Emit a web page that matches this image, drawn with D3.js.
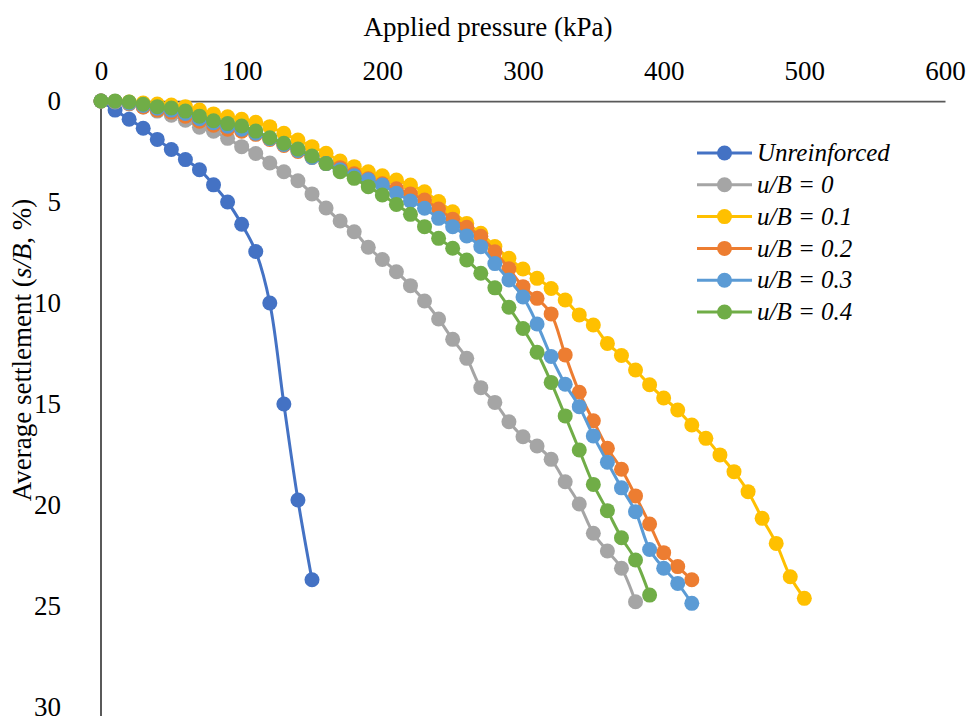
<!DOCTYPE html>
<html>
<head>
<meta charset="utf-8">
<script src="https://cdn.jsdelivr.net/npm/d3@7/dist/d3.min.js"></script>
<style>
  body { margin: 0; background: #fff; }
  text { font-family: "Liberation Serif", "Times New Roman", serif; fill: #000; }
</style>
</head>
<body>
<script>

// applied pressure steps (kPa), each series uses the first n of them
const pressureSteps = [0, 10, 20, 30, 40, 50, 60, 70, 80, 90,
  100, 110, 120, 130, 140, 150, 160, 170, 180, 190,
  200, 210, 220, 230, 240, 250, 260, 270, 280, 290,
  300, 310, 320, 330, 340, 350, 360, 370, 380, 390,
  400, 410, 420, 430, 440, 450, 460, 470, 480, 490, 500];

// average settlement s/B (%) per series
const unreinforced = [0, 0.45, 0.9, 1.35, 1.9, 2.4, 2.9, 3.4, 4.15, 5.0,
  6.1, 7.45, 10.0, 15.0, 19.75, 23.7];
const ub0 = [0, 0.05, 0.15, 0.3, 0.5, 0.7, 0.95, 1.3, 1.5, 1.85,
  2.26, 2.6, 3.07, 3.5, 3.95, 4.6, 5.3, 5.94, 6.47, 7.24,
  7.85, 8.45, 9.14, 9.9, 10.79, 11.8, 12.74, 14.19, 14.92, 15.88,
  16.62, 17.08, 17.74, 18.85, 19.95, 21.4, 22.28, 23.13, 24.79];
const ub01 = [0, 0.02, 0.05, 0.1, 0.15, 0.2, 0.28, 0.45, 0.64, 0.78,
  0.9, 1.05, 1.27, 1.6, 1.93, 2.26, 2.59, 2.97, 3.25, 3.5,
  3.7, 3.91, 4.16, 4.49, 4.98, 5.48, 6.06, 6.55, 7.2, 7.79,
  8.32, 8.78, 9.28, 9.85, 10.59, 11.09, 12.0, 12.6, 13.32, 14.05,
  14.7, 15.3, 16.04, 16.7, 17.52, 18.35, 19.34, 20.66, 21.9, 23.55, 24.62];
const ub02 = [0, 0.02, 0.12, 0.3, 0.45, 0.55, 0.75, 1.0, 1.2, 1.4,
  1.5, 1.65, 1.9, 2.2, 2.5, 2.8, 3.1, 3.3, 3.6, 3.85,
  4.1, 4.35, 4.6, 4.9, 5.35, 5.85, 6.25, 6.7, 7.46, 8.3,
  9.19, 9.77, 10.54, 12.57, 14.42, 15.83, 17.19, 18.23, 19.55, 20.94,
  22.36, 23.05, 23.7];
const ub03 = [0, 0.02, 0.1, 0.22, 0.36, 0.45, 0.62, 0.88, 1.08, 1.25,
  1.4, 1.6, 1.86, 2.15, 2.45, 2.8, 3.1, 3.4, 3.7, 3.9,
  4.16, 4.57, 4.95, 5.31, 5.81, 6.22, 6.68, 7.21, 8.05, 8.86,
  9.7, 11.04, 12.65, 14.02, 15.13, 16.58, 17.88, 19.15, 20.33, 22.2,
  23.13, 23.88, 24.87];
const ub04 = [0, 0, 0.05, 0.16, 0.28, 0.35, 0.5, 0.75, 0.98, 1.12,
  1.24, 1.49, 1.82, 2.09, 2.38, 2.72, 3.09, 3.5, 3.83, 4.24,
  4.65, 5.12, 5.61, 6.22, 6.8, 7.29, 7.87, 8.53, 9.25, 10.21,
  11.26, 12.44, 13.93, 15.59, 17.28, 18.98, 20.28, 21.62, 22.72, 24.46];

const seriesNames = ["Unreinforced", "u/B = 0", "u/B = 0.1", "u/B = 0.2", "u/B = 0.3", "u/B = 0.4"];
const seriesValues = [unreinforced, ub0, ub01, ub02, ub03, ub04];
const seriesColors = ["#4472C4", "#A5A5A5", "#FFC000", "#ED7D31", "#5B9BD5", "#70AD47"];

const xTicks = [0, 100, 200, 300, 400, 500, 600];
const yTicks = [0, 5, 10, 15, 20, 25, 30];

const width = 966;
const height = 716;
const margin = {top: 101, right: 21, bottom: 9, left: 101};

const svg = d3.select("body").append("svg")
    .attr("width", width)
    .attr("height", height);

// scales, settlement grows downward
const xScale = d3.scaleLinear()
    .domain([0, 600])
    .range([margin.left, width - margin.right]);
const yScale = d3.scaleLinear()
    .domain([0, 30])
    .range([margin.top, 707]);

// x axis on top
const xAxis = svg.append("g")
    .attr("transform", "translate(0," + margin.top + ")")
    .call(d3.axisTop(xScale).tickValues(xTicks).tickSize(0).tickPadding(21));
xAxis.select(".domain").attr("stroke", "#595959").attr("stroke-width", 1.75);
xAxis.selectAll("text").style("font-size", "27px");

// y axis on the left
const yAxis = svg.append("g")
    .attr("transform", "translate(" + margin.left + ",0)")
    .call(d3.axisLeft(yScale).tickValues(yTicks).tickSize(0).tickPadding(40));
yAxis.select(".domain").remove();
yAxis.selectAll("text").style("font-size", "27px");
yAxis.append("line")
    .attr("x1", 0).attr("x2", 0)
    .attr("y1", margin.top).attr("y2", height)
    .attr("stroke", "#000")
    .attr("stroke-width", 1.3);

// axis titles
svg.append("text")
    .attr("x", (xScale(0) + xScale(600)) / 2 - 35)
    .attr("y", 36)
    .attr("text-anchor", "middle")
    .style("font-size", "27px")
    .text("Applied pressure (kPa)");

const yTitle = svg.append("text")
    .attr("transform", "translate(31," + 350 + ") rotate(-90)")
    .attr("text-anchor", "middle")
    .style("font-size", "27px");
yTitle.append("tspan").text("Average settlement (");
yTitle.append("tspan").style("font-style", "italic").text("s/B");
yTitle.append("tspan").text(", %)");

// lines + markers, series drawn in order so later ones sit on top
const line = d3.line()
    .x(d => xScale(d[0]))
    .y(d => yScale(d[1]))
    .curve(d3.curveCatmullRom.alpha(0.5));

seriesValues.forEach(function (vals, i) {
  const pts = vals.map((v, j) => [pressureSteps[j], v]);
  const g = svg.append("g").attr("class", "series");
  g.append("path")
      .datum(pts)
      .attr("d", line)
      .attr("fill", "none")
      .attr("stroke", seriesColors[i])
      .attr("stroke-width", 3);
  g.selectAll("circle")
      .data(pts)
      .enter()
      .append("circle")
      .attr("cx", d => xScale(d[0]))
      .attr("cy", d => yScale(d[1]))
      .attr("r", 7.5)
      .attr("fill", seriesColors[i]);
});

// legend
const legend = svg.append("g").attr("transform", "translate(697,153)");
const rows = legend.selectAll("g")
    .data(seriesNames)
    .enter()
    .append("g")
    .attr("transform", (d, i) => "translate(0," + i * 31.8 + ")");
rows.append("line")
    .attr("x1", 0).attr("x2", 55)
    .attr("stroke", (d, i) => seriesColors[i])
    .attr("stroke-width", 3);
rows.append("circle")
    .attr("cx", 27.5)
    .attr("r", 7.5)
    .attr("fill", (d, i) => seriesColors[i]);
rows.append("text")
    .attr("x", 60)
    .attr("dy", "0.33em")
    .style("font-size", "25px")
    .style("font-style", "italic")
    .text(d => d);

</script>
</body>
</html>
